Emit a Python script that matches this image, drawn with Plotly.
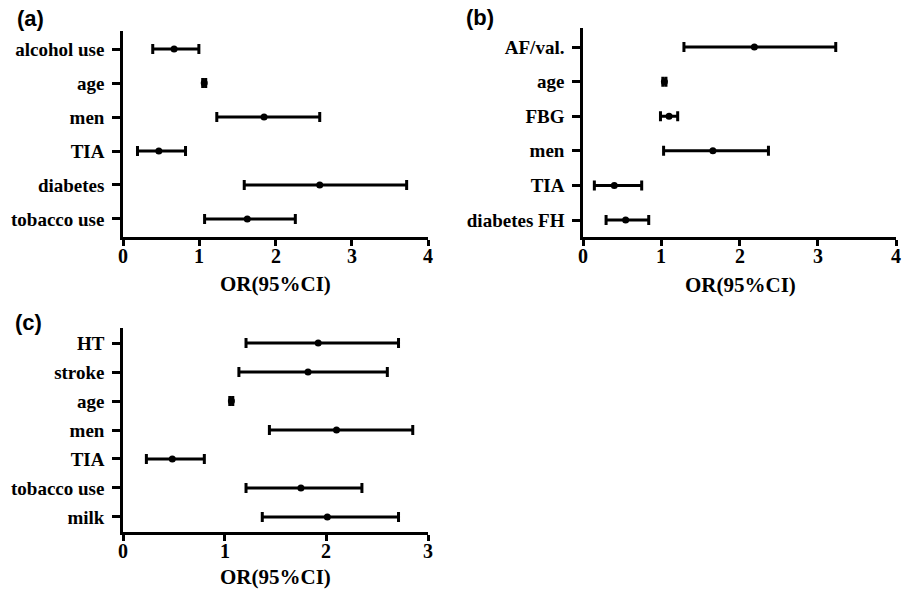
import plotly.graph_objects as go

W, H = 908, 589

# Panel (a)
a_labels = ["tobacco use", "diabetes", "TIA", "men", "age", "alcohol use"]
a_or = [1.63, 2.58, 0.47, 1.85, 1.065, 0.67]
a_lo = [1.07, 1.59, 0.19, 1.23, 1.045, 0.39]
a_hi = [2.26, 3.72, 0.82, 2.58, 1.085, 0.995]

# Panel (b)
b_labels = ["diabetes FH", "TIA", "men", "FBG", "age", "AF/val."]
b_or = [0.545, 0.40, 1.66, 1.10, 1.04, 2.19]
b_lo = [0.295, 0.145, 1.03, 0.99, 1.02, 1.29]
b_hi = [0.84, 0.75, 2.37, 1.21, 1.06, 3.23]

# Panel (c)
c_labels = ["milk", "tobacco use", "TIA", "men", "age", "stroke", "HT"]
c_or = [2.01, 1.75, 0.485, 2.10, 1.066, 1.82, 1.92]
c_lo = [1.37, 1.21, 0.23, 1.44, 1.05, 1.14, 1.21]
c_hi = [2.71, 2.35, 0.80, 2.85, 1.08, 2.60, 2.71]

x_ticks_ab = [0, 1, 2, 3, 4]
x_ticks_c = [0, 1, 2, 3]
x_title = "OR(95%CI)"
panel_names = ["(a)", "(b)", "(c)"]

SERIF = "Liberation Serif"
SANS = "Liberation Sans"

fig = go.Figure()

panels = [
    (a_labels, a_or, a_lo, a_hi, "x", "y"),
    (b_labels, b_or, b_lo, b_hi, "x2", "y2"),
    (c_labels, c_or, c_lo, c_hi, "x3", "y3"),
]
for labels, orv, lo, hi, xa, ya in panels:
    idx = list(range(len(labels)))
    fig.add_trace(go.Scatter(
        x=orv, y=idx, mode="markers", xaxis=xa, yaxis=ya,
        marker=dict(color="black", size=7),
        error_x=dict(type="data", symmetric=False,
                     array=[h - o for h, o in zip(hi, orv)],
                     arrayminus=[o - l for o, l in zip(orv, lo)],
                     color="black", thickness=3, width=5),
        showlegend=False, hoverinfo="skip", cliponaxis=False,
    ))

def xax(domain, rng, ticks, anchor):
    return dict(domain=domain, range=rng, tickvals=ticks, showticklabels=False,
                showline=True, linecolor="black", linewidth=2.5, ticks="outside",
                ticklen=6, tickwidth=2.5, tickcolor="black", showgrid=False, zeroline=False,
                anchor=anchor)

def yax(domain, rng, labels, anchor):
    return dict(domain=domain, range=rng, tickvals=list(range(len(labels))),
                ticktext=["<b>%s</b>" % s for s in labels],
                showline=True, linecolor="black", linewidth=2.5, ticks="outside",
                ticklen=8, tickwidth=2.5, tickcolor="black", showgrid=False, zeroline=False,
                ticklabelstandoff=4,
                anchor=anchor, tickfont=dict(family=SERIF, size=19, color="black"))

x_bottoms = {"x": 237, "x2": 237, "x3": 532}

fig.update_layout(
    width=W, height=H, margin=dict(l=0, r=0, t=0, b=0),
    plot_bgcolor="white", paper_bgcolor="white",
    xaxis=xax([123 / W, 428 / W], [0, 4], x_ticks_ab, "y"),
    yaxis=yax([1 - 237 / H, 1 - 31 / H], [-0.53, 5.53], a_labels, "x"),
    xaxis2=xax([583 / W, 896 / W], [0, 4], x_ticks_ab, "y2"),
    yaxis2=yax([1 - 237 / H, 1 - 28 / H], [-0.49, 5.55], b_labels, "x2"),
    xaxis3=xax([123 / W, 428 / W], [0, 3], x_ticks_c, "y3"),
    yaxis3=yax([1 - 532 / H, 1 - 328 / H], [-0.52, 6.52], c_labels, "x3"),
)

ann = []
# x tick labels placed just under each axis
for xa, ticks in [("x", x_ticks_ab), ("x2", x_ticks_ab), ("x3", x_ticks_c)]:
    yb = x_bottoms[xa] + 19
    for t in ticks:
        ann.append(dict(text="<b>%s</b>" % t, x=t, xref=xa, y=1 - yb / H, yref="paper",
                        xanchor="center", yanchor="middle", showarrow=False,
                        font=dict(family=SERIF, size=20, color="black")))
for (cx, cy) in [(275, 284), (740, 285), (275, 577)]:
    ann.append(dict(text="<b>%s</b>" % x_title, x=cx / W, y=1 - cy / H, xref="paper", yref="paper",
                    xanchor="center", yanchor="middle", showarrow=False,
                    font=dict(family=SERIF, size=21, color="black")))
for name, (cx, cy) in zip(panel_names, [(30, 19), (480, 18), (28, 322)]):
    ann.append(dict(text="<b>%s</b>" % name, x=cx / W, y=1 - cy / H, xref="paper", yref="paper",
                    xanchor="center", yanchor="middle", showarrow=False,
                    font=dict(family=SANS, size=22, color="black")))
fig.update_layout(annotations=ann)

fig.write_html("out.html")
